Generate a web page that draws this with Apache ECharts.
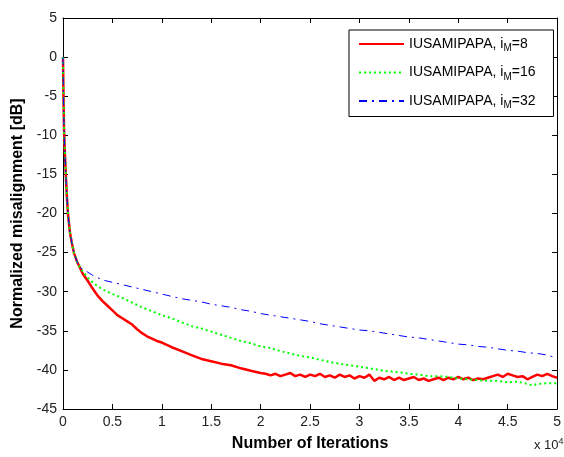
<!DOCTYPE html>
<html><head><meta charset="utf-8">
<script src="https://cdn.jsdelivr.net/npm/echarts@6/dist/echarts.min.js"></script>
<style>html,body{margin:0;padding:0;background:#fff}#c{width:564px;height:457px}</style>
</head><body><div id="c"></div>
<script>
const seriesNames = ['IUSAMIPAPA, i{s|M}=8', 'IUSAMIPAPA, i{s|M}=16', 'IUSAMIPAPA, i{s|M}=32'];
const xTickLabels = ['0','0.5','1','1.5','2','2.5','3','3.5','4','4.5','5'];
const yTickLabels = ['-45','-40','-35','-30','-25','-20','-15','-10','-5','0','5'];

// shared start (iterations)
const xStart = [0, 30, 60, 100, 150, 200, 250, 300, 400, 500, 700, 900, 1100, 1400, 1700];
const yStart = [0, -3, -6, -9, -11, -12.5, -14, -15.5, -18, -20, -22.4, -23.8, -25, -26.1, -26.9];

// iM = 8 (red)
const redX = [2000, 2500, 3000, 3500, 4000, 4500, 5000, 5500, 6000, 6500, 7000, 7500, 8000, 8500, 9000, 9500, 10000, 11000, 12000, 13000, 14000, 15000, 16000, 17000, 18000, 19000,
  20000, 20500, 21000, 21500, 22000, 22500, 23000, 23500, 24000, 24500, 25000, 25500, 26000, 26500, 27000, 27500, 28000, 28500, 29000, 29500,
  30000, 30500, 31000, 31500, 32000, 32500, 33000, 33500, 34000, 34500, 35000, 35500, 36000, 36500, 37000, 37500, 38000, 38500, 39000, 39500,
  40000, 40500, 41000, 41500, 42000, 42500, 43000, 43500, 44000, 44500, 45000, 45500, 46000, 46500, 47000, 47500, 48000, 48500, 49000, 49500, 50000];
const redY = [-27.7, -28.6, -29.6, -30.5, -31.2, -31.8, -32.4, -33.0, -33.4, -33.8, -34.2, -34.8, -35.3, -35.7, -36.0, -36.3, -36.5, -37.1, -37.6, -38.1, -38.6, -38.9, -39.2, -39.4, -39.8, -40.1,
  -40.4, -40.5, -40.7, -40.5, -40.8, -40.6, -40.4, -40.8, -40.6, -40.9, -40.6, -40.8, -40.5, -40.9, -40.7, -41.0, -40.6, -40.9, -40.7, -41.1,
  -40.8, -41.0, -40.6, -41.4, -41.0, -41.2, -40.9, -41.3, -41.0, -41.3, -41.1, -40.9, -41.3, -41.1, -41.4, -41.2, -41.0, -41.3, -41.0, -41.2,
  -40.9, -41.2, -41.0, -41.3, -41.1, -41.2, -41.0, -40.8, -40.6, -40.9, -40.5, -40.7, -40.9, -40.8, -41.2, -40.9, -40.6, -40.8, -40.5, -40.8, -41.0];

// iM = 16 (green)
const greenX = [2000, 2500, 3000, 3500, 4000, 4500, 5000, 6000, 7000, 8000, 9000, 10000, 11000, 12000, 13000, 14000, 15000, 16000, 17000, 18000, 19000,
  20000, 21000, 22000, 23000, 24000, 25000, 26000, 27000, 28000, 29000, 30000, 31000, 32000, 33000, 34000, 35000, 36000, 37000, 38000, 39000,
  40000, 41000, 42000, 43000, 44000, 45000, 46000, 47000, 47500, 48000, 49000, 50000];
const greenY = [-27.4, -28.2, -28.8, -29.3, -29.7, -30.0, -30.3, -30.8, -31.4, -32.0, -32.5, -33.0, -33.4, -33.9, -34.4, -34.7, -35.1, -35.5, -35.9, -36.3, -36.6,
  -37.0, -37.2, -37.6, -37.9, -38.2, -38.4, -38.7, -39.0, -39.2, -39.4, -39.6, -39.8, -40.0, -40.2, -40.3, -40.5, -40.6, -40.8, -40.8, -40.9,
  -41.1, -41.2, -41.3, -41.4, -41.4, -41.6, -41.5, -41.8, -42.0, -41.8, -41.7, -41.7];

// iM = 32 (blue)
const blueX = [2000, 2500, 3000, 3500, 4000, 5000, 6000, 7000, 8000, 9000, 10000, 11000, 12000, 13000, 14000, 15000, 16000, 17000, 18000, 19000,
  20000, 21000, 22000, 23000, 24000, 25000, 26000, 27000, 28000, 29000, 30000, 31000, 32000, 33000, 34000, 35000, 36000, 37000, 38000, 39000,
  40000, 41000, 42000, 43000, 44000, 45000, 46000, 47000, 48000, 49000, 49500, 50000];
const blueY = [-27.1, -27.5, -27.9, -28.2, -28.5, -28.8, -29.1, -29.4, -29.7, -30.0, -30.3, -30.6, -30.9, -31.1, -31.3, -31.6, -31.8, -32.0, -32.3, -32.5,
  -32.8, -33.0, -33.2, -33.4, -33.6, -33.8, -34.1, -34.3, -34.5, -34.7, -34.9, -35.0, -35.2, -35.4, -35.6, -35.8, -35.9, -36.1, -36.3, -36.5,
  -36.7, -36.8, -37.0, -37.1, -37.3, -37.5, -37.6, -37.8, -37.9, -38.1, -38.3, -38.4];

function pairs(xs, ys) {
  const a = xStart.map((x, i) => [x, yStart[i]]);
  return a.concat(xs.map((x, i) => [x, ys[i]]));
}

const chart = echarts.init(document.getElementById('c'), null, {renderer: 'canvas'});
const font = 'Liberation Sans, Arial, sans-serif';
const axisBase = {
  axisLine: {show: true, onZero: false, lineStyle: {color: '#000', width: 1}},
  axisTick: {show: true, inside: true, length: 5, lineStyle: {color: '#000'}},
  splitLine: {show: false}
};
chart.setOption({
  animation: false,
  backgroundColor: '#fff',
  textStyle: {fontFamily: font},
  grid: {left: 63, right: 6, top: 18, bottom: 46},
  legend: {
    orient: 'vertical', left: 349, top: 30,
    backgroundColor: '#fff', borderColor: '#000', borderWidth: 1, borderRadius: 0,
    padding: [7, 18, 6, 9], itemGap: 12, itemWidth: 45, itemHeight: 16,
    itemStyle: {opacity: 0},
    formatter: n => n,
    textStyle: {fontSize: 14, color: '#000', fontFamily: font,
      rich: {s: {fontSize: 10, color: '#000', fontFamily: font, padding: [9, 0, 0, 0]}}},
    data: seriesNames
  },
  xAxis: [
    Object.assign({}, axisBase, {type: 'value', min: 0, max: 50000, interval: 5000, position: 'bottom',
      name: 'Number of Iterations', nameLocation: 'middle', nameGap: 27,
      nameTextStyle: {fontSize: 16, fontWeight: 'bold', color: '#000', fontFamily: font},
      axisLabel: {fontSize: 14, color: '#222', margin: 6, formatter: (v) => xTickLabels[Math.round(v / 5000)]}}),
    Object.assign({}, axisBase, {type: 'value', min: 0, max: 50000, interval: 5000, position: 'top', axisLabel: {show: false}})
  ],
  yAxis: [
    Object.assign({}, axisBase, {type: 'value', min: -45, max: 5, interval: 5, position: 'left',
      name: 'Normalized misalignment [dB]', nameLocation: 'middle', nameGap: 34,
      nameTextStyle: {fontSize: 16, fontWeight: 'bold', color: '#000', fontFamily: font},
      axisLabel: {fontSize: 14, color: '#222', margin: 6, formatter: (v) => yTickLabels[Math.round((v + 45) / 5)]}}),
    Object.assign({}, axisBase, {type: 'value', min: -45, max: 5, interval: 5, position: 'right', axisLabel: {show: false}})
  ],
  graphic: [{
    type: 'text', left: 534, top: 437,
    style: {text: 'x 10{p|4}', fontSize: 13, fill: '#222', fontFamily: font,
      rich: {p: {fontSize: 9, fill: '#222', padding: [0, 0, 8, 0]}}}
  }],
  series: [
    {name: seriesNames[0], type: 'line', showSymbol: false, symbol: 'none', z: 3,
      data: pairs(redX, redY), color: '#ff0000',
      lineStyle: {color: '#ff0000', width: 2.5, type: 'solid'}},
    {name: seriesNames[1], type: 'line', showSymbol: false, symbol: 'none', z: 4,
      data: pairs(greenX, greenY), color: '#00ff00',
      lineStyle: {color: '#00ff00', width: 2, type: [2, 3]}},
    {name: seriesNames[2], type: 'line', showSymbol: false, symbol: 'none', z: 5,
      data: pairs(blueX, blueY), color: '#0000ff',
      lineStyle: {color: '#0000ff', width: 1, type: [8, 5, 2, 5]}}
  ]
});
</script></body></html>
